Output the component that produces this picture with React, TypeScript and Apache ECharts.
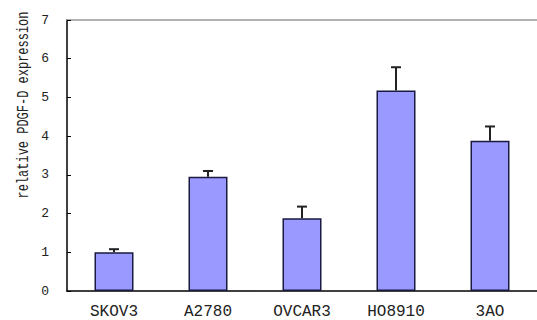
import React, { useEffect, useRef } from "react";
import * as echarts from "echarts";

const categories = ["SKOV3", "A2780", "OVCAR3", "HO8910", "3AO"];
const values = [1.0, 2.95, 1.88, 5.18, 3.88];
const errors = [0.08, 0.15, 0.3, 0.6, 0.37];
const yTicks = [0, 1, 2, 3, 4, 5, 6, 7];
const yTitle = "relative PDGF-D expression";

const FONT = "'Liberation Mono', 'DejaVu Sans Mono', monospace";

export default function App() {
  const ref = useRef<HTMLDivElement>(null);
  useEffect(() => {
    document.body.style.margin = "0";
    if (!ref.current) return;
    const chart = echarts.init(ref.current, undefined, { renderer: "svg" });
    const errData = values.map((v, i) => [i, v, v + errors[i]]);
    chart.setOption({
      animation: false,
      backgroundColor: "#ffffff",
      grid: { left: 67, top: 20, bottom: 29, width: 483 },
      xAxis: [
        {
          type: "category",
          data: categories,
          position: "bottom",
          boundaryGap: true,
          axisLine: { lineStyle: { color: "#000", width: 1.5 } },
          axisTick: { inside: true, length: 3, lineStyle: { color: "#000" } },
          axisLabel: { fontFamily: FONT, fontSize: 16, color: "#222", margin: 13 },
        },
        {
          type: "category",
          data: categories,
          position: "top",
          axisLine: { lineStyle: { color: "#999", width: 1.5 } },
          axisTick: { show: false },
          axisLabel: { show: false },
        },
      ],
      yAxis: {
        type: "value",
        min: yTicks[0],
        max: yTicks[yTicks.length - 1],
        interval: 1,
        axisLine: { show: true, lineStyle: { color: "#000", width: 1.5 } },
        axisTick: { show: true, inside: true, length: 4, lineStyle: { color: "#000" } },
        splitLine: { show: false },
        axisLabel: { fontFamily: FONT, fontSize: 13, color: "#222", margin: 18 },
      },
      graphic: [
        {
          type: "text",
          x: 23.5,
          y: 105,
          rotation: Math.PI / 2,
          scaleY: 1.4,
          style: {
            text: yTitle,
            fontFamily: FONT,
            fontSize: 12,
            fill: "#222",
            align: "center",
            verticalAlign: "middle",
          },
        },
      ],
      series: [
        {
          type: "bar",
          data: values,
          barWidth: 39,
          itemStyle: { color: "#9999FF", borderColor: "#1a1a40", borderWidth: 1.5 },
          z: 2,
        },
        {
          type: "custom",
          data: errData,
          z: 3,
          renderItem: (params: any, api: any) => {
            const x = api.value(0);
            const p0 = api.coord([x, api.value(1)]);
            const p1 = api.coord([x, api.value(2)]);
            const style = { stroke: "#222", lineWidth: 2 };
            return {
              type: "group",
              children: [
                { type: "line", shape: { x1: p0[0], y1: p0[1], x2: p1[0], y2: p1[1] }, style },
                { type: "line", shape: { x1: p1[0] - 5, y1: p1[1], x2: p1[0] + 5, y2: p1[1] }, style },
              ],
            };
          },
        },
      ],
    });
    return () => chart.dispose();
  }, []);
  return <div ref={ref} style={{ width: 537, height: 320 }} />;
}
